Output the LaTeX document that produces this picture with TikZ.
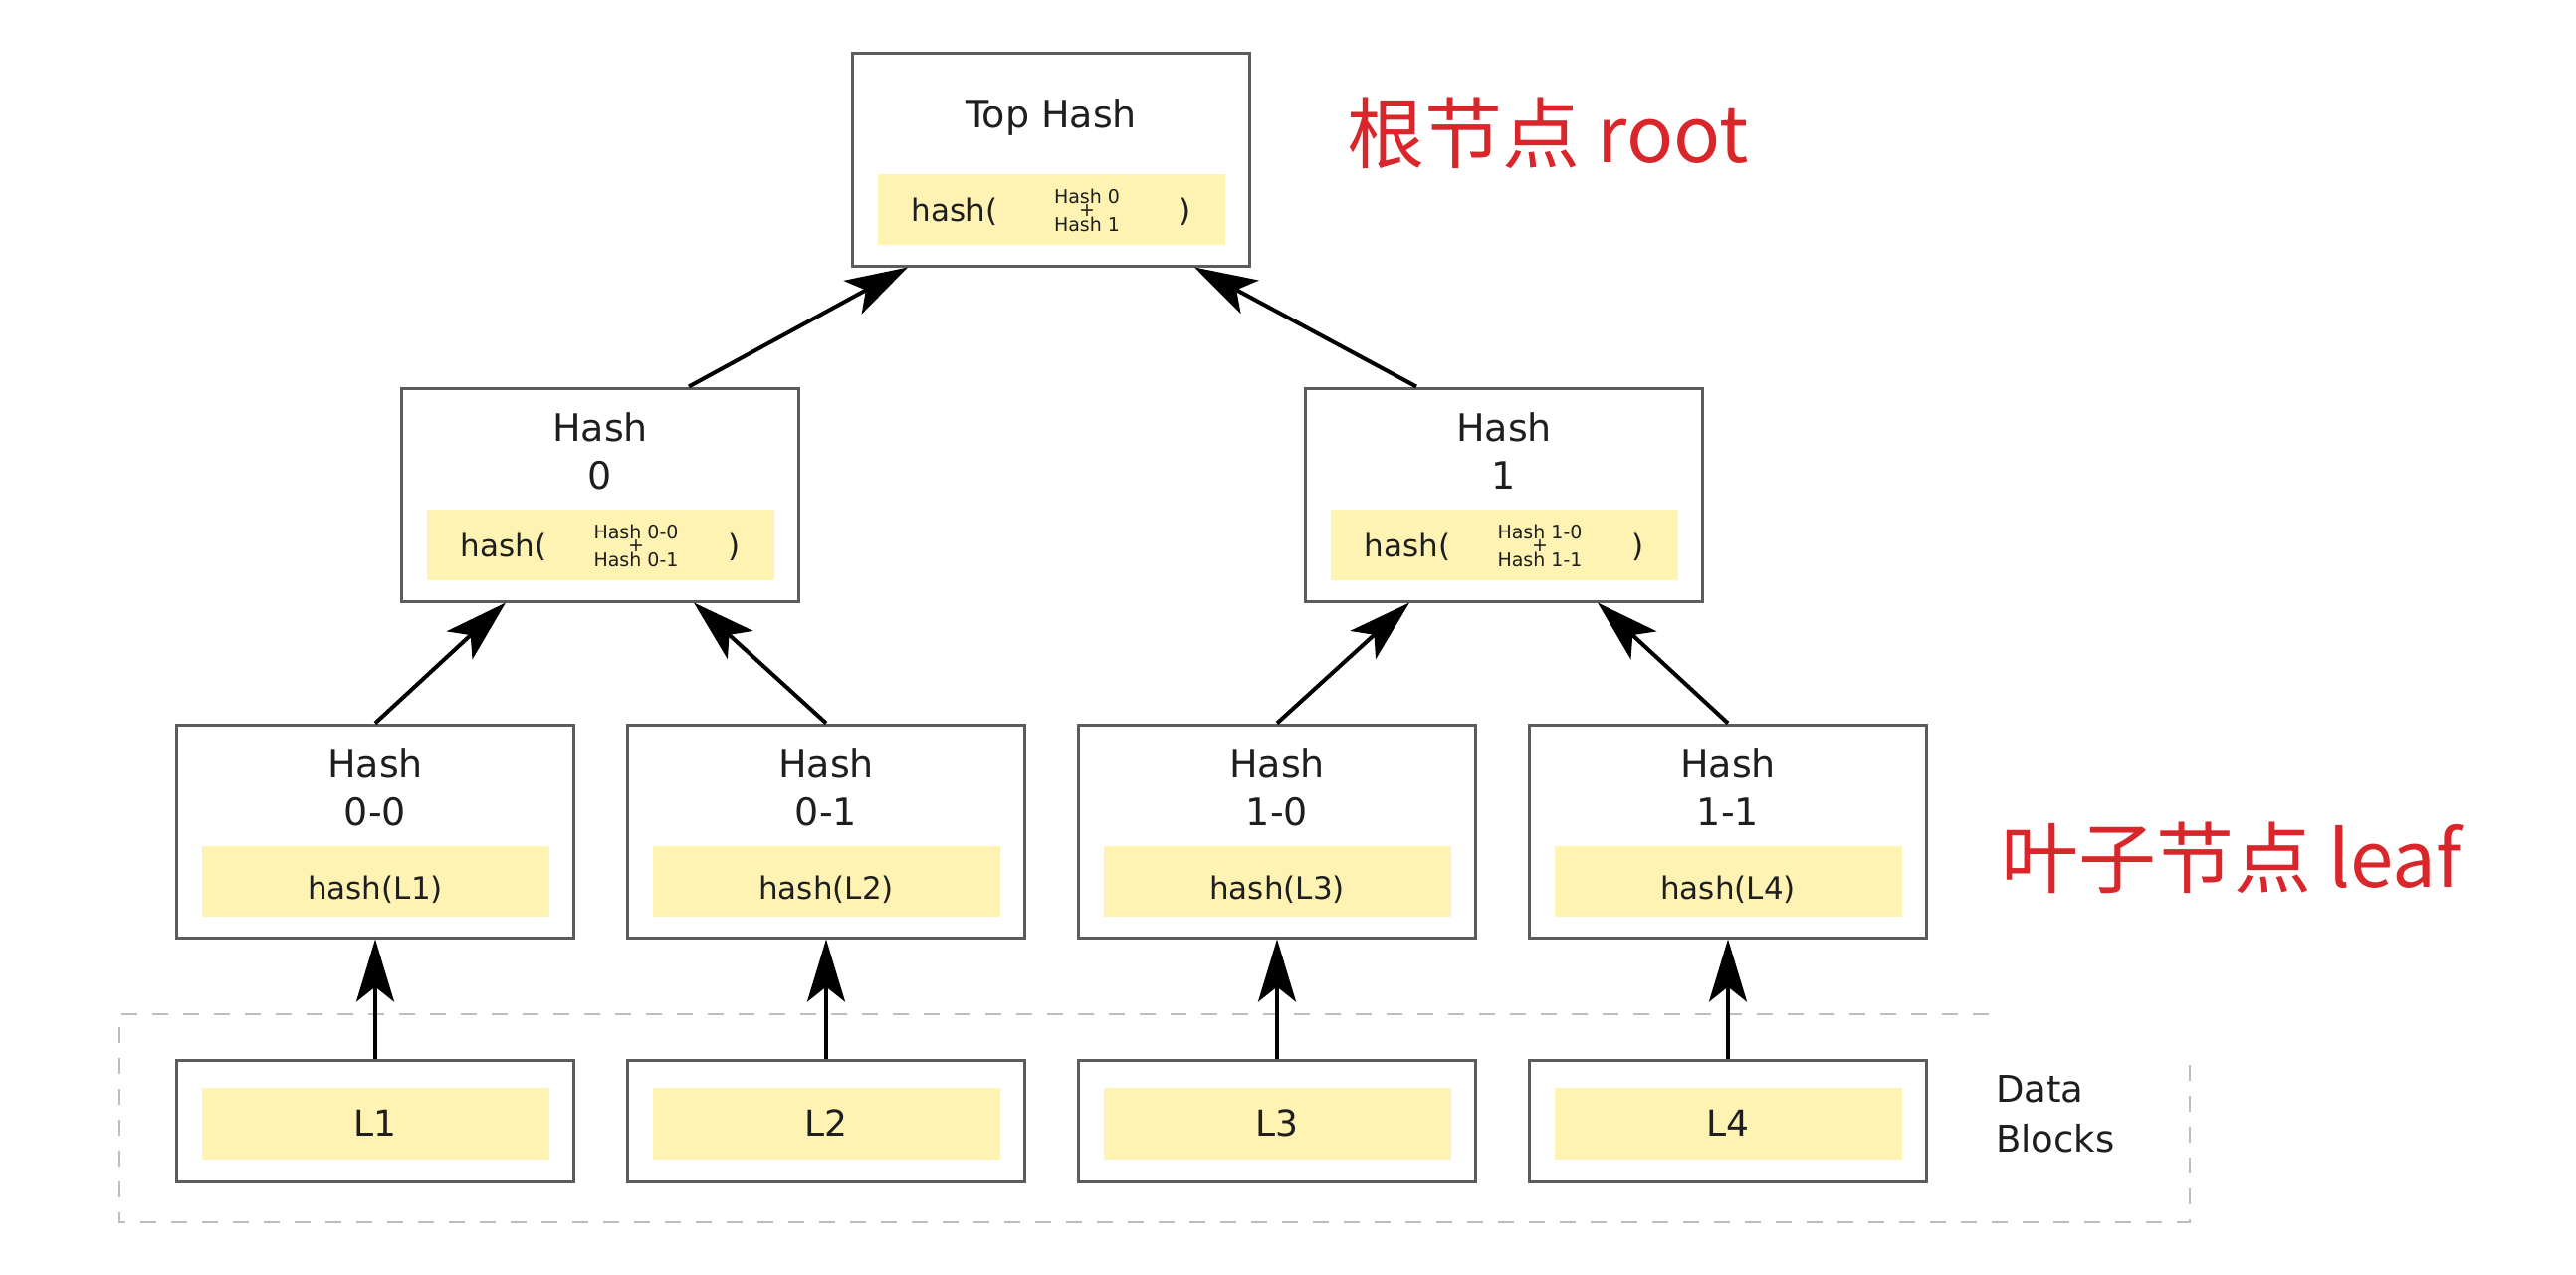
\documentclass[tikz,border=0pt]{standalone}
\usepackage{fontspec}
\setmainfont{DejaVu Sans}
\newfontfamily\cjkfont{Noto Sans CJK SC}
\usetikzlibrary{arrows.meta}
\definecolor{hyellow}{HTML}{FFF3B3}
\definecolor{boxgray}{HTML}{5C5C5C}
\definecolor{txt}{HTML}{1E1E1E}
\definecolor{lblred}{HTML}{D9262A}
\definecolor{dashgray}{HTML}{BDBDBD}

\newcommand\pairparts[5]{%
  \node[ybox] (#1y) at (#2,#3+157.5) {};
  \node[ytxt, anchor=base] (#1a) at (#2-97,#3+169) {hash(};
  \node[smtxt, anchor=base] (#1b) at (#2+36,#3+151) {#4};
  \node[smtxt] (#1p) at (#2+36,#3+159) {+};
  \node[smtxt, anchor=base] (#1c) at (#2+36,#3+179) {#5};
  \node[ytxt, anchor=base] (#1d) at (#2+135,#3+169) {)};
}
\newcommand\leafparts[4]{%
  \node[hashbox] (#1) at (#2,835) {};
  \node[ttl] (#1t) at (#2,728+63) {Hash\\#3};
  \node[ybox] (#1y) at (#2,728+157.5) {};
  \node[ytxt, anchor=base] (#1a) at (#2,728+175) {hash(#4)};
}
\newcommand\dataparts[3]{%
  \node[databox] (#1) at (#2,1126) {};
  \node[ybox, minimum height=72pt] (#1y) at (#2,1129) {};
  \node[ytxt, font=\fontsize{36}{40}\selectfont, anchor=base] (#1t) at (#2,1141) {#3};
}

\begin{document}
\begin{tikzpicture}[x=1pt,y=-1pt,
  hashbox/.style={draw=boxgray, line width=3pt, fill=white, minimum width=399pt, minimum height=214pt, inner sep=0pt},
  databox/.style={hashbox, minimum height=122pt},
  ybox/.style={fill=hyellow, minimum width=349pt, minimum height=71pt, inner sep=0pt},
  ttl/.style={text=txt, font=\fontsize{38}{48}\selectfont, align=center, inner sep=0pt},
  ytxt/.style={text=txt, font=\fontsize{31}{37}\selectfont, inner sep=0pt},
  smtxt/.style={text=txt, font=\fontsize{19}{23}\selectfont, inner sep=0pt},
  lbl/.style={text=lblred, font=\cjkfont\fontsize{78}{90}\selectfont, inner sep=0pt},
  arr/.style={draw=black, line width=4pt, -{Stealth[length=63pt, width=38pt, inset=15pt]}},
  dashline/.style={draw=dashgray, line width=2.5pt, dash pattern=on 16pt off 15pt}
]
\useasboundingbox[fill=white] (0,0) rectangle (2588,1280);

% dashed data-block frame
\draw[dashline] (1998,1019) -- (120,1019) -- (120,1228) -- (2200,1228) -- (2200,1067);

% top hash
\node[hashbox] (top) at (1056,160) {};
\node[ttl, anchor=base] (topt) at (1056,128) {Top Hash};
\pairparts{top}{1056}{53}{Hash 0}{Hash 1}

% level 1
\node[hashbox] (h0) at (603,497) {};
\node[ttl] (h0t) at (603,390+63) {Hash\\0};
\pairparts{h0}{603}{390}{Hash 0-0}{Hash 0-1}

\node[hashbox] (h1) at (1511,497) {};
\node[ttl] (h1t) at (1511,390+63) {Hash\\1};
\pairparts{h1}{1511}{390}{Hash 1-0}{Hash 1-1}

% leaves
\leafparts{h00}{377}{0-0}{L1}
\leafparts{h01}{830}{0-1}{L2}
\leafparts{h10}{1283}{1-0}{L3}
\leafparts{h11}{1736}{1-1}{L4}

% data blocks
\dataparts{d1}{377}{L1}
\dataparts{d2}{830}{L2}
\dataparts{d3}{1283}{L3}
\dataparts{d4}{1736}{L4}

\node[ttl, align=left, font=\fontsize{37}{50}\selectfont, anchor=west] (dblk) at (2005,1119.5) {Data\\Blocks};

% red labels
\node[lbl, anchor=west] (rootlbl) at (1353,134) {根节点 root};
\node[lbl, anchor=west] (leaflbl) at (2010,862) {叶子节点 leaf};

% arrows
\draw[arr] ([xshift=89pt]h0.north) -- ([xshift=-144pt]top.south);
\draw[arr] ([xshift=-88pt]h1.north) -- ([xshift=144pt]top.south);
\draw[arr] (h00.north) -- ([xshift=-95pt]h0.south);
\draw[arr] (h01.north) -- ([xshift=94pt]h0.south);
\draw[arr] (h10.north) -- ([xshift=-95pt]h1.south);
\draw[arr] (h11.north) -- ([xshift=94pt]h1.south);
\draw[arr] (d1.north) -- (h00.south);
\draw[arr] (d2.north) -- (h01.south);
\draw[arr] (d3.north) -- (h10.south);
\draw[arr] (d4.north) -- (h11.south);
\end{tikzpicture}
\end{document}
